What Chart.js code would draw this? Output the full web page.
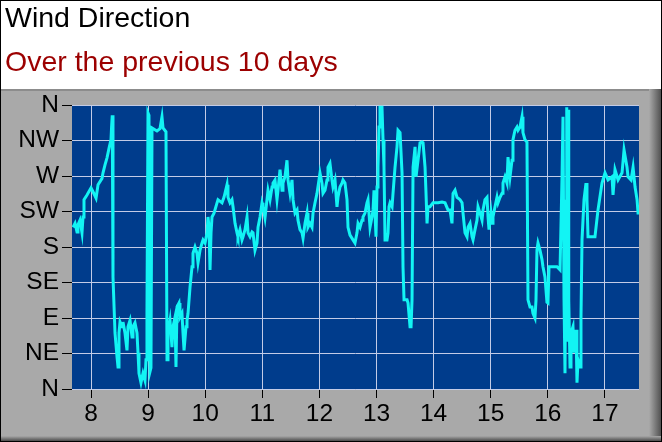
<!DOCTYPE html>
<html>
<head>
<meta charset="utf-8">
<title>Wind Direction</title>
<script src="https://cdn.jsdelivr.net/npm/chart.js@4.4.0/dist/chart.umd.min.js"></script>
<style>
  html, body { margin: 0; padding: 0; background: #fff; }
  #wrap { width: 662px; height: 442px; }
</style>
</head>
<body>
<div id="wrap"><canvas id="windChart" width="662" height="442"></canvas></div>
<script>
// Compass labels from 0 (N) up to 360 (N)
const compassLabels = ['N', 'NE', 'E', 'SE', 'S', 'SW', 'W', 'NW', 'N'];

// Time in days (day of month) and wind direction in degrees
const days = [
  7.685, 7.720, 7.755, 7.772, 7.807, 7.842, 7.860, 7.877, 7.930, 8.000,
  8.035, 8.088, 8.123, 8.193, 8.210, 8.245, 8.280, 8.315, 8.350, 8.360,
  8.372, 8.385, 8.420, 8.455, 8.473, 8.490, 8.508, 8.543, 8.560, 8.595,
  8.630, 8.648, 8.683, 8.718, 8.735, 8.770, 8.805, 8.823, 8.840, 8.875,
  8.910, 8.945, 8.963, 8.980, 8.998, 9.015, 9.033, 9.050, 9.068, 9.155,
  9.208, 9.243, 9.261, 9.313, 9.331, 9.348, 9.383, 9.418, 9.436, 9.471,
  9.488, 9.506, 9.541, 9.558, 9.593, 9.611, 9.629, 9.664, 9.681, 9.699,
  9.734, 9.769, 9.786, 9.821, 9.856, 9.874, 9.909, 9.944, 9.962, 9.997,
  10.032, 10.049, 10.067, 10.084, 10.102, 10.119, 10.154, 10.207, 10.224, 10.294,
  10.329, 10.382, 10.399, 10.434, 10.469, 10.487, 10.522, 10.557, 10.574, 10.609,
  10.644, 10.662, 10.697, 10.732, 10.750, 10.785, 10.820, 10.837, 10.872, 10.907,
  10.925, 10.960, 10.995, 11.012, 11.047, 11.082, 11.100, 11.135, 11.170, 11.187,
  11.222, 11.257, 11.275, 11.310, 11.345, 11.362, 11.397, 11.432, 11.450, 11.485,
  11.520, 11.538, 11.573, 11.608, 11.625, 11.660, 11.695, 11.713, 11.748, 11.783,
  11.800, 11.835, 11.870, 11.888, 11.923, 11.958, 12.010, 12.045, 12.063, 12.098,
  12.133, 12.150, 12.185, 12.220, 12.238, 12.273, 12.308, 12.325, 12.360, 12.395,
  12.413, 12.448, 12.483, 12.501, 12.536, 12.588, 12.623, 12.658, 12.676, 12.711,
  12.746, 12.763, 12.798, 12.833, 12.851, 12.886, 12.921, 12.939, 12.956, 12.991,
  13.009, 13.026, 13.044, 13.061, 13.096, 13.114, 13.131, 13.149, 13.184, 13.202,
  13.219, 13.237, 13.272, 13.289, 13.324, 13.359, 13.377, 13.412, 13.447, 13.464,
  13.482, 13.535, 13.552, 13.587, 13.605, 13.622, 13.640, 13.675, 13.692, 13.727,
  13.762, 13.797, 13.815, 13.850, 13.867, 13.885, 13.902, 13.937, 13.990, 14.077,
  14.147, 14.200, 14.252, 14.287, 14.322, 14.340, 14.375, 14.410, 14.463, 14.498,
  14.515, 14.550, 14.585, 14.603, 14.638, 14.673, 14.690, 14.725, 14.760, 14.778,
  14.813, 14.848, 14.865, 14.900, 14.935, 14.953, 14.970, 15.005, 15.023, 15.040,
  15.075, 15.110, 15.128, 15.163, 15.198, 15.215, 15.250, 15.285, 15.303, 15.338,
  15.373, 15.390, 15.425, 15.460, 15.478, 15.513, 15.548, 15.565, 15.600, 15.635,
  15.653, 15.688, 15.723, 15.740, 15.775, 15.793, 15.810, 15.828, 15.863, 15.898,
  15.915, 15.950, 15.985, 16.003, 16.021, 16.074, 16.161, 16.214, 16.249, 16.266,
  16.284, 16.301, 16.319, 16.327, 16.336, 16.345, 16.354, 16.362, 16.371, 16.389,
  16.406, 16.441, 16.459, 16.494, 16.511, 16.529, 16.564, 16.581, 16.599, 16.634,
  16.669, 16.686, 16.704, 16.826, 16.879, 16.949, 17.002, 17.055, 17.125, 17.142,
  17.177, 17.230, 17.300, 17.335, 17.387, 17.405, 17.458, 17.493, 17.528, 17.563,
  17.580, 17.615
];
const directions = [
  205, 210, 199, 208, 214, 198, 218, 240, 246, 255,
  250, 242, 259, 267, 274, 284, 293, 305, 316, 332,
  347, 142, 71, 41, 28, 71, 85, 79, 85, 71,
  49, 79, 87, 66, 79, 84, 71, 46, 20, 8,
  20, 11, 37, 96, 350, 347, 22, 27, 331, 327,
  330, 345, 331, 326, 37, 71, 87, 53, 79, 91,
  28, 104, 109, 91, 96, 71, 49, 79, 87, 96,
  129, 155, 172, 180, 172, 160, 176, 185, 189, 185,
  198, 218, 205, 151, 198, 218, 223, 236, 240, 236,
  243, 259, 243, 236, 240, 231, 210, 198, 193, 202,
  189, 193, 202, 218, 198, 193, 199, 198, 176, 185,
  205, 218, 236, 231, 217, 240, 252, 240, 256, 261,
  265, 240, 252, 278, 252, 261, 269, 290, 265, 248,
  265, 240, 223, 227, 214, 202, 198, 191, 210, 223,
  205, 210, 205, 223, 236, 248, 274, 261, 248, 252,
  265, 281, 286, 265, 256, 265, 231, 243, 256, 261,
  265, 261, 240, 205, 195, 189, 185, 198, 210, 205,
  214, 218, 223, 236, 240, 205, 218, 227, 252, 193,
  256, 281, 332, 357, 357, 316, 281, 189, 189, 198,
  231, 236, 231, 248, 281, 307, 328, 325, 274, 155,
  113, 113, 109, 79, 79, 113, 281, 307, 269, 290,
  312, 313, 312, 281, 248, 210, 231, 231, 236, 236,
  237, 236, 227, 227, 210, 248, 252, 243, 240, 236,
  223, 198, 193, 205, 210, 193, 189, 202, 214, 231,
  223, 214, 227, 240, 243, 218, 202, 223, 210, 218,
  231, 243, 236, 243, 248, 261, 269, 261, 294, 269,
  290, 316, 328, 332, 328, 332, 345, 325, 316, 313,
  113, 104, 104, 96, 90, 113, 176, 185, 176, 164,
  155, 142, 110, 109, 155, 155, 155, 151, 269, 345,
  113, 20, 240, 60, 357, 200, 354, 90, 113, 28,
  71, 79, 46, 75, 8, 37, 28, 91, 189, 240,
  261, 240, 193, 193, 227, 261, 274, 265, 269, 246,
  278, 265, 274, 303, 281, 269, 265, 281, 256, 240,
  223, 223
];

// Background: white header, grey bevelled panel, dark blue plot area
const panelBackground = {
  id: 'panelBackground',
  beforeDraw(chart) {
    const { ctx, width, height, chartArea } = chart;
    ctx.save();
    ctx.fillStyle = '#ffffff';
    ctx.fillRect(0, 0, width, height);

    ctx.fillStyle = '#a9a9a9';
    ctx.fillRect(0, 89, width, height - 89);
    ctx.fillStyle = '#8c8c8c';
    ctx.fillRect(0, 89, width, 2);

    const right = ctx.createLinearGradient(width - 13, 0, width, 0);
    right.addColorStop(0, '#a9a9a9');
    right.addColorStop(1, '#4a4a4a');
    ctx.fillStyle = right;
    ctx.fillRect(width - 13, 89, 13, height - 89);

    const bottom = ctx.createLinearGradient(0, height - 6, 0, height);
    bottom.addColorStop(0, '#a9a9a9');
    bottom.addColorStop(1, '#3a3a3a');
    ctx.fillStyle = bottom;
    ctx.fillRect(0, height - 6, width, 6);

    ctx.strokeStyle = '#000000';
    ctx.lineWidth = 1;
    ctx.strokeRect(0.5, 0.5, width - 1, height - 1);

    ctx.fillStyle = '#003c8c';
    ctx.fillRect(chartArea.left, chartArea.top, chartArea.right - chartArea.left, chartArea.bottom - chartArea.top);
    ctx.restore();
  }
};

const points = days.map((d, i) => ({ x: d, y: directions[i] }));
const fontFamily = "'Liberation Sans', Arial, sans-serif";

new Chart(document.getElementById('windChart'), {
  type: 'line',
  data: {
    datasets: [{
      label: 'Wind Direction',
      data: points,
      borderColor: '#12f4f4',
      borderWidth: 3,
      pointRadius: 0,
      tension: 0
    }]
  },
  options: {
    responsive: false,
    animation: false,
    layout: { padding: { left: 5, right: 23, top: 0, bottom: 0 } },
    plugins: {
      legend: { display: false },
      tooltip: { enabled: false },
      title: {
        display: true,
        text: 'Wind Direction',
        align: 'start',
        color: '#000000',
        font: { family: fontFamily, size: 28.5, weight: 'normal', lineHeight: '35px' },
        padding: { top: 2, bottom: 0 }
      },
      subtitle: {
        display: true,
        text: 'Over the previous 10 days',
        align: 'start',
        color: '#9c0000',
        font: { family: fontFamily, size: 28.5, weight: 'normal', lineHeight: '35px' },
        padding: { top: 9, bottom: 24 }
      }
    },
    scales: {
      x: {
        type: 'linear',
        min: 7.667,
        max: 17.597,
        afterFit: (scale) => { scale.height = 53; },
        ticks: {
          stepSize: 1,
          includeBounds: false,
          maxRotation: 0,
          color: '#000000',
          padding: 2,
          font: { family: fontFamily, size: 24.5 }
        },
        grid: { color: '#c3cbe6', lineWidth: 1, tickColor: '#000000', tickLength: 9 },
        border: { display: false }
      },
      y: {
        min: 0,
        max: 360,
        afterFit: (scale) => { scale.width = 67; },
        ticks: {
          stepSize: 45,
          color: '#000000',
          padding: 3,
          font: { family: fontFamily, size: 24.5 },
          callback: (value) => compassLabels[Math.round(value / 45)]
        },
        grid: { color: '#c3cbe6', lineWidth: 1, tickColor: '#000000', tickLength: 10 },
        border: { display: false }
      }
    }
  },
  plugins: [panelBackground]
});
</script>
</body>
</html>
